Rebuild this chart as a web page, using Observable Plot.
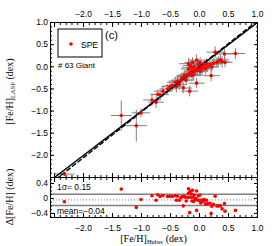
<!DOCTYPE html>
<html><head><meta charset="utf-8">
<script src="https://cdn.jsdelivr.net/npm/d3@7"></script>
<script src="https://cdn.jsdelivr.net/npm/@observablehq/plot@0.6"></script>
<style>
body{margin:0;background:#fff;}
#chart{position:relative;width:277px;height:246px;}
#chart svg{display:block;overflow:visible;}
</style></head><body><div id="chart"></div>
<script>
// ---- data ----
const feHuber = [-2.33,-1.35,-1.09,-1.01,-0.82,-0.75,-0.72,-0.68,-0.63,-0.55,-0.51,-0.47,-0.42,-0.38,-0.35,-0.32,-0.30,-0.28,-0.25,-0.23,-0.21,-0.19,-0.19,-0.18,-0.17,-0.16,-0.15,-0.14,-0.13,-0.12,-0.11,-0.10,-0.09,-0.08,-0.06,-0.05,-0.05,-0.03,-0.02,0.00,0.01,0.02,0.04,0.05,0.07,0.08,0.10,0.12,0.14,0.18,0.20,0.21,0.24,0.27,0.30,0.33,0.36,0.39,0.43,0.44,0.62,-0.26,-0.40];
const feLasp  = [-2.42,-1.10,-1.33,-1.04,-0.75,-0.80,-0.62,-0.63,-0.55,-0.50,-0.45,-0.42,-0.35,-0.32,-0.40,-0.30,-0.25,-0.48,-0.22,-0.30,-0.18,0.07,-0.05,-0.15,-0.55,0.03,-0.12,-0.02,-0.20,0.10,-0.08,-0.18,0.00,-0.10,-0.06,0.15,-0.37,-0.08,0.05,-0.05,0.10,-0.10,0.00,-0.03,0.00,0.05,-0.05,0.07,0.00,0.05,-0.20,0.00,0.08,0.33,0.10,0.13,0.16,0.11,0.29,0.10,0.30,-0.20,-0.45];
const errHuber = [0.17,0.18,0.19,0.16,0.15,0.14,0.13,0.15,0.16,0.14,0.15,0.13,0.14,0.15,0.13,0.16,0.14,0.15,0.13,0.14,0.15,0.16,0.13,0.14,0.15,0.13,0.14,0.16,0.15,0.14,0.13,0.15,0.14,0.16,0.13,0.15,0.14,0.13,0.15,0.14,0.16,0.13,0.15,0.14,0.13,0.15,0.14,0.13,0.16,0.14,0.15,0.13,0.14,0.15,0.14,0.13,0.15,0.14,0.16,0.13,0.17,0.14,0.15];
const errLasp  = [0.05,0.34,0.36,0.10,0.12,0.13,0.11,0.12,0.13,0.11,0.12,0.13,0.12,0.11,0.13,0.12,0.11,0.12,0.13,0.11,0.12,0.13,0.12,0.11,0.12,0.13,0.11,0.12,0.13,0.12,0.11,0.12,0.13,0.11,0.12,0.13,0.12,0.11,0.12,0.13,0.12,0.11,0.12,0.13,0.11,0.12,0.13,0.12,0.11,0.12,0.13,0.11,0.12,0.13,0.12,0.11,0.12,0.13,0.12,0.11,0.12,0.12,0.13];
const meanDiff = -0.04, sigmaDiff = 0.15;
const fitSlope = 1.03, fitIntercept = 0.01;
const legendLabel = "SPE", sampleLabel = "# 63 Giant", panelLabel = "(c)";
const xMajor = [-2.5,-2.0,-1.5,-1.0,-0.5,0.0,0.5,1.0];
const xLabels = [-2.0,-1.5,-1.0,-0.5,0.0,0.5,1.0];
const xMinor = d3.range(-25, 11).map(i => i / 10);
const yMajor = [-2.5,-2.0,-1.5,-1.0,-0.5,0.0,0.5,1.0];
const yLabels = [-2.0,-1.5,-1.0,-0.5,0.0,0.5,1.0];
const yMinor = d3.range(-25, 11).map(i => i / 10);
const rMajor = [-0.4,0,0.4];
const rLabels = [-0.4,0,0.4];
const rMinor = [-0.5,-0.4,-0.3,-0.2,-0.1,0,0.1,0.2,0.3,0.4,0.5];
const xDomain = [-2.57, 1.0], yDomain = [-2.5, 1.0], rDomain = [-0.51, 0.56];

const points = feHuber.map((x, i) => ({x, y: feLasp[i], ex: errHuber[i], ey: errLasp[i], d: feLasp[i] - x}));
const diag = xDomain.map(x => ({x, y: x}));
const fit = xDomain.map(x => ({x, y: fitSlope * x + fitIntercept}));

const fmt1 = d => d3.format(".1f")(d);
const fmtR = d => d === 0 ? "0" : d3.format(".1f")(d);
const none = () => "";
const FONT = "Liberation Sans";
const SERIF = "Liberation Serif";

function frameTicks(xMaj, xMin, yMaj, yMin, labels) {
  const m = [
    Plot.axisX({anchor: "top", ticks: xMaj, tickSize: -4, tickFormat: none, label: null}),
    Plot.axisX({anchor: "top", ticks: xMin, tickSize: -2, tickFormat: none, label: null}),
    Plot.axisX({anchor: "bottom", ticks: xMaj, tickSize: -4, tickFormat: none, label: null}),
    Plot.axisX({anchor: "bottom", ticks: xMin, tickSize: -2, tickFormat: none, label: null}),
    Plot.axisY({anchor: "left", ticks: yMaj, tickSize: -4, tickFormat: none, label: null}),
    Plot.axisY({anchor: "left", ticks: yMin, tickSize: -2, tickFormat: none, label: null}),
    Plot.axisY({anchor: "right", ticks: yMaj, tickSize: -4, tickFormat: none, label: null}),
    Plot.axisY({anchor: "right", ticks: yMin, tickSize: -2, tickFormat: none, label: null}),
    Plot.axisY({anchor: "left", ticks: labels.yTicks, tickSize: 0, tickPadding: 2.5, tickFormat: labels.left, label: null})
  ];
  if (labels.top) m.push(Plot.axisX({anchor: "top", ticks: xLabels, tickSize: 0, tickPadding: 5.5, tickFormat: fmt1, label: null}));
  if (labels.bottom) m.push(Plot.axisX({anchor: "bottom", ticks: xLabels, tickSize: 0, tickPadding: 7, tickFormat: fmt1, label: null}));
  return m;
}

const main = Plot.plot({
  width: 277, height: 177,
  marginTop: 22, marginLeft: 50, marginRight: 20, marginBottom: 0,
  x: {domain: xDomain, axis: null},
  y: {domain: yDomain, axis: null},
  style: {fontFamily: FONT, fontSize: "8.5px", color: "black", background: "white", overflow: "visible"},
  marks: [
    Plot.link(points, {x1: d => d.x - d.ex, x2: d => d.x + d.ex, y1: "y", y2: "y", stroke: "#808080", strokeWidth: 1}),
    Plot.link(points, {x1: "x", x2: "x", y1: d => d.y - d.ey, y2: d => d.y + d.ey, stroke: "#808080", strokeWidth: 1}),
    Plot.line(diag, {x: "x", y: "y", stroke: "black", strokeWidth: 1.4, clip: true}),
    Plot.line(fit, {x: "x", y: "y", stroke: "black", strokeWidth: 1.4, strokeDasharray: "4,3", clip: true}),
    Plot.dot(points, {x: "x", y: "y", r: 1.8, fill: "#ff0000", stroke: "none"}),
    ...frameTicks(xMajor, xMinor, yMajor, yMinor, {top: true, bottom: false, left: fmt1, yTicks: yLabels}),
    Plot.frame({stroke: "black", strokeWidth: 1})
  ]
});

const resid = Plot.plot({
  width: 277, height: 69,
  marginTop: 0, marginLeft: 50, marginRight: 20, marginBottom: 29,
  x: {domain: xDomain, axis: null},
  y: {domain: rDomain, axis: null},
  style: {fontFamily: FONT, fontSize: "8.5px", color: "black", background: "white", overflow: "visible"},
  marks: [
    Plot.ruleY([meanDiff + sigmaDiff, meanDiff - sigmaDiff], {stroke: "#808080", strokeWidth: 1.5}),
    Plot.ruleY([meanDiff], {stroke: "#808080", strokeWidth: 1, strokeDasharray: "1,2"}),
    Plot.dot(points, {x: "x", y: "d", r: 1.8, fill: "#ff0000", stroke: "none"}),
    ...frameTicks(xMajor, xMinor, rMajor, rMinor, {top: false, bottom: true, left: fmtR, yTicks: rLabels}),
    Plot.frame({stroke: "black", strokeWidth: 1})
  ]
});

const chart = document.getElementById("chart");
chart.appendChild(main);
chart.appendChild(resid);

// annotations in main panel
{
  const svg = d3.select(main);
  const xr = main.scale("x").range, yr = main.scale("y").range;
  const x0 = Math.min(...xr), y0 = Math.min(...yr), y1 = Math.max(...yr);
  const g = svg.append("g").attr("font-family", FONT).attr("text-anchor", "start");
  g.append("rect").attr("x", x0 + 8).attr("y", y0 + 7).attr("width", 44).attr("height", 28)
    .attr("fill", "white").attr("stroke", "black").attr("stroke-width", 1);
  g.append("circle").attr("cx", x0 + 21).attr("cy", y0 + 22).attr("r", 1.8).attr("fill", "#ff0000");
  g.append("text").attr("x", x0 + 31).attr("y", y0 + 25.5).attr("font-size", 8.5).text(legendLabel);
  g.append("text").attr("x", x0 + 8).attr("y", y0 + 46).attr("font-size", 8).text(sampleLabel);
  g.append("text").attr("x", x0 + 55).attr("y", y0 + 17).attr("font-size", 11).text(panelLabel);
  const t = svg.append("text").attr("font-family", SERIF).attr("font-size", 10)
    .attr("text-anchor", "middle")
    .attr("transform", `translate(13,${(y0 + y1) / 2 - 8}) rotate(-90)`);
  t.append("tspan").text("[Fe/H]");
  t.append("tspan").attr("font-size", 6.5).attr("dy", 2).text("LASP");
  t.append("tspan").attr("dy", -2).text(" (dex)");
}
// annotations in residual panel
{
  const svg = d3.select(resid);
  const xr = resid.scale("x").range, yr = resid.scale("y").range;
  const x0 = Math.min(...xr), y0 = Math.min(...yr), y1 = Math.max(...yr);
  const g = svg.append("g").attr("font-family", FONT).attr("font-size", 8.5).attr("text-anchor", "start");
  g.append("text").attr("x", x0 + 7).attr("y", y0 + 13).text(`1σ= ${sigmaDiff.toFixed(2)}`);
  g.append("text").attr("x", x0 + 7).attr("y", y0 + 36.5).text(`mean=${d3.format(".2f")(meanDiff)}`);
  const t = svg.append("text").attr("font-family", SERIF).attr("font-size", 10)
    .attr("text-anchor", "middle")
    .attr("transform", `translate(13,${(y0 + y1) / 2}) rotate(-90)`);
  t.text("Δ[Fe/H] (dex)");
  const b = svg.append("text").attr("font-family", SERIF).attr("font-size", 10)
    .attr("text-anchor", "middle")
    .attr("x", (xr[0] + xr[1]) / 2).attr("y", y1 + 25);
  b.append("tspan").text("[Fe/H]");
  b.append("tspan").attr("font-size", 6.5).attr("dy", 2).text("Huber");
  b.append("tspan").attr("dy", -2).text(" (dex)");
}
</script></body></html>
